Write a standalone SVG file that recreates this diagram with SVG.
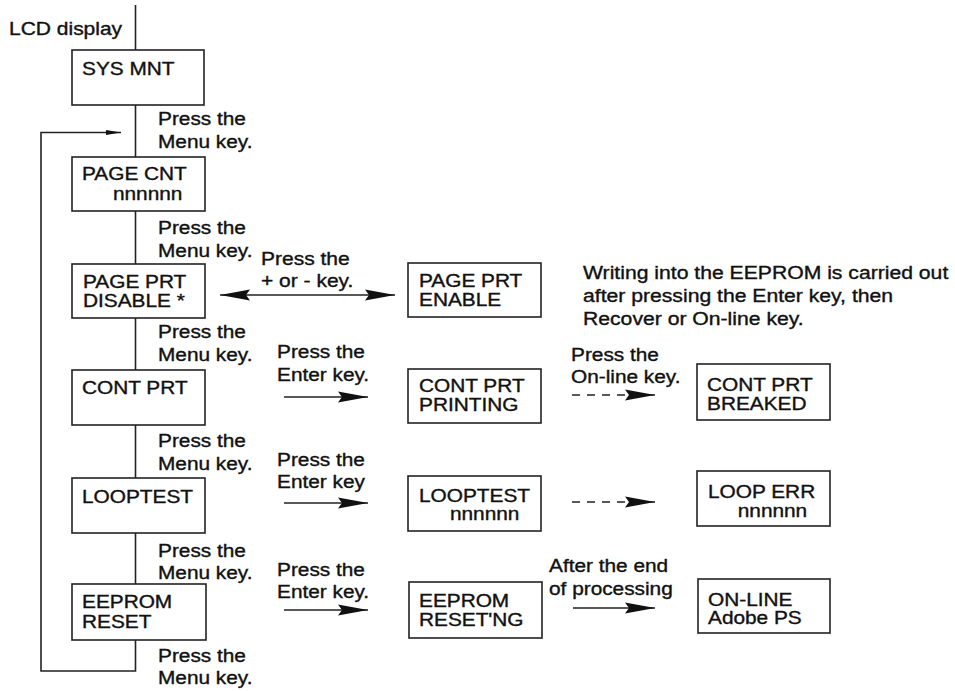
<svg xmlns="http://www.w3.org/2000/svg" width="955" height="691" viewBox="0 0 955 691">
<style>
.bg{fill:#fff}
.box{fill:#fff;stroke:#222;stroke-width:1.6}
.ln{fill:none;stroke:#222;stroke-width:1.6}
.dash{stroke-dasharray:8 7}
.t{font-family:"Liberation Sans",Arial,sans-serif;font-size:17.5px;fill:#111;stroke:#111;stroke-width:0.35}
</style>
<defs>
<marker id="ah" markerUnits="userSpaceOnUse" markerWidth="31" markerHeight="12" refX="30" refY="6" orient="auto-start-reverse">
<path d="M0,0.5 L30,6 L0,11.5 L4,6 Z" fill="#111"/>
</marker>
<marker id="ahs" markerUnits="userSpaceOnUse" markerWidth="16" markerHeight="6" refX="15" refY="3" orient="auto">
<path d="M0,0.5 L15,3 L0,5.5 Z" fill="#111"/>
</marker>
</defs>
<rect class="bg" x="0" y="0" width="955" height="691"/>

<g id="connectors">
<line class="ln" x1="135.5" y1="5" x2="135.5" y2="50"/>
<line class="ln" x1="135.5" y1="105" x2="135.5" y2="157"/>
<line class="ln" x1="135.5" y1="211" x2="135.5" y2="264"/>
<line class="ln" x1="135.5" y1="318" x2="135.5" y2="370"/>
<line class="ln" x1="135.5" y1="425" x2="135.5" y2="478"/>
<line class="ln" x1="135.5" y1="533" x2="135.5" y2="584"/>
<polyline class="ln" points="135.5,640 135.5,671 41,671 41,132.5 121,132.5" marker-end="url(#ahs)"/>
<line class="ln" x1="220" y1="295" x2="395" y2="295" marker-start="url(#ah)" marker-end="url(#ah)"/>
<line class="ln" x1="284" y1="397" x2="368" y2="397" marker-end="url(#ah)"/>
<line class="ln" x1="284" y1="503" x2="368" y2="503" marker-end="url(#ah)"/>
<line class="ln" x1="284" y1="610" x2="368" y2="610" marker-end="url(#ah)"/>
<line class="ln dash" x1="572" y1="395" x2="655" y2="395" marker-end="url(#ah)"/>
<line class="ln dash" x1="572" y1="502" x2="655" y2="502" marker-end="url(#ah)"/>
<line class="ln" x1="573" y1="608" x2="655" y2="608" marker-end="url(#ah)"/>
</g>

<g id="labels">
<text class="t" transform="translate(9 35) scale(1.2 1)">LCD display</text>
<text class="t" transform="translate(158 125) scale(1.19 1)"><tspan x="0" y="0">Press the</tspan><tspan x="0" y="23">Menu key.</tspan></text>
<text class="t" transform="translate(158 234) scale(1.19 1)"><tspan x="0" y="0">Press the</tspan><tspan x="0" y="23">Menu key.</tspan></text>
<text class="t" transform="translate(158 338) scale(1.19 1)"><tspan x="0" y="0">Press the</tspan><tspan x="0" y="23">Menu key.</tspan></text>
<text class="t" transform="translate(158 447) scale(1.19 1)"><tspan x="0" y="0">Press the</tspan><tspan x="0" y="23">Menu key.</tspan></text>
<text class="t" transform="translate(158 557) scale(1.19 1)"><tspan x="0" y="0">Press the</tspan><tspan x="0" y="22">Menu key.</tspan></text>
<text class="t" transform="translate(158 662) scale(1.19 1)"><tspan x="0" y="0">Press the</tspan><tspan x="0" y="22">Menu key.</tspan></text>
<text class="t" transform="translate(261 265) scale(1.2 1)"><tspan x="0" y="0">Press the</tspan><tspan x="0" y="22">+ or - key.</tspan></text>
<text class="t" transform="translate(277 358) scale(1.19 1)"><tspan x="0" y="0">Press the</tspan><tspan x="0" y="23">Enter key.</tspan></text>
<text class="t" transform="translate(277 466) scale(1.19 1)"><tspan x="0" y="0">Press the</tspan><tspan x="0" y="22">Enter key</tspan></text>
<text class="t" transform="translate(277 576) scale(1.19 1)"><tspan x="0" y="0">Press the</tspan><tspan x="0" y="22">Enter key.</tspan></text>
<text class="t" transform="translate(571 361) scale(1.19 1)"><tspan x="0" y="0">Press the</tspan><tspan x="0" y="22">On-line key.</tspan></text>
<text class="t" transform="translate(549 572) scale(1.19 1)"><tspan x="0" y="0">After the end</tspan><tspan x="0" y="23">of processing</tspan></text>
<text class="t" transform="translate(583 279) scale(1.21 1)"><tspan x="0" y="0">Writing into the EEPROM is carried out</tspan><tspan x="0" y="23">after pressing the Enter key, then</tspan><tspan x="0" y="46">Recover or On-line key.</tspan></text>
</g>

<g id="sys-mnt">
<rect class="box" x="72" y="50" width="132" height="55"/>
<text class="t" transform="translate(82 75) scale(1.19 1)">SYS MNT</text>
</g>
<g id="page-cnt">
<rect class="box" x="72" y="157" width="133" height="54"/>
<text class="t" transform="translate(82 180) scale(1.19 1)"><tspan x="0" y="0">PAGE CNT</tspan><tspan x="26" y="20">nnnnnn</tspan></text>
</g>
<g id="page-prt-disable">
<rect class="box" x="72" y="264" width="133" height="54"/>
<text class="t" transform="translate(83 288) scale(1.19 1)"><tspan x="0" y="0">PAGE PRT</tspan><tspan x="0" y="19">DISABLE *</tspan></text>
</g>
<g id="page-prt-enable">
<rect class="box" x="408" y="263" width="133" height="54"/>
<text class="t" transform="translate(419 287) scale(1.19 1)"><tspan x="0" y="0">PAGE PRT</tspan><tspan x="0" y="19">ENABLE</tspan></text>
</g>
<g id="cont-prt">
<rect class="box" x="72" y="370" width="133" height="55"/>
<text class="t" transform="translate(82 394) scale(1.19 1)">CONT PRT</text>
</g>
<g id="cont-prt-printing">
<rect class="box" x="408" y="369" width="133" height="54"/>
<text class="t" transform="translate(419 392) scale(1.19 1)"><tspan x="0" y="0">CONT PRT</tspan><tspan x="0" y="19">PRINTING</tspan></text>
</g>
<g id="cont-prt-breaked">
<rect class="box" x="697" y="364" width="133" height="56"/>
<text class="t" transform="translate(707 391) scale(1.19 1)"><tspan x="0" y="0">CONT PRT</tspan><tspan x="0" y="19">BREAKED</tspan></text>
</g>
<g id="looptest">
<rect class="box" x="72" y="478" width="133" height="55"/>
<text class="t" transform="translate(82 503) scale(1.19 1)">LOOPTEST</text>
</g>
<g id="looptest-count">
<rect class="box" x="408" y="476" width="133" height="55"/>
<text class="t" transform="translate(419 502) scale(1.19 1)"><tspan x="0" y="0">LOOPTEST</tspan><tspan x="26" y="18">nnnnnn</tspan></text>
</g>
<g id="loop-err">
<rect class="box" x="697" y="471" width="133" height="55"/>
<text class="t" transform="translate(708 498) scale(1.19 1)"><tspan x="0" y="0">LOOP ERR</tspan><tspan x="25" y="19">nnnnnn</tspan></text>
</g>
<g id="eeprom-reset">
<rect class="box" x="72" y="584" width="134" height="56"/>
<text class="t" transform="translate(82 608) scale(1.19 1)"><tspan x="0" y="0">EEPROM</tspan><tspan x="0" y="20">RESET</tspan></text>
</g>
<g id="eeprom-resetng">
<rect class="box" x="409" y="582" width="133" height="56"/>
<text class="t" transform="translate(419 607) scale(1.19 1)"><tspan x="0" y="0">EEPROM</tspan><tspan x="0" y="19">RESET'NG</tspan></text>
</g>
<g id="on-line">
<rect class="box" x="698" y="579" width="132" height="54"/>
<text class="t" transform="translate(708 606) scale(1.19 1)"><tspan x="0" y="0">ON-LINE</tspan><tspan x="0" y="18">Adobe PS</tspan></text>
</g>
</svg>
